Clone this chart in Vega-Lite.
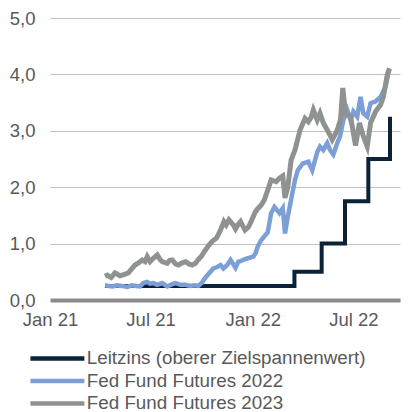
{
  "$schema": "https://vega.github.io/schema/vega-lite/v6.json",
  "width": 350,
  "height": 282,
  "autosize": {"type": "none"},
  "padding": {"left": 50, "top": 18, "right": 13, "bottom": 112},
  "config": {
    "view": {"stroke": null},
    "font": "Liberation Sans",
    "axis": {"labelFont": "Liberation Sans", "labelFontSize": 18.5, "labelColor": "#595959", "title": null, "ticks": false}
  },
  "data": {"values": [
    {"d":"2021-04-10","s":"Leitzins (oberer Zielspannenwert)","v":0.25},
    {"d":"2022-03-17","s":"Leitzins (oberer Zielspannenwert)","v":0.5},
    {"d":"2022-05-05","s":"Leitzins (oberer Zielspannenwert)","v":1.0},
    {"d":"2022-06-16","s":"Leitzins (oberer Zielspannenwert)","v":1.75},
    {"d":"2022-07-28","s":"Leitzins (oberer Zielspannenwert)","v":2.5},
    {"d":"2022-09-05","s":"Leitzins (oberer Zielspannenwert)","v":3.25},

    {"d":"2021-04-10","s":"Fed Fund Futures 2022","v":0.26},
    {"d":"2021-04-17","s":"Fed Fund Futures 2022","v":0.25},
    {"d":"2021-04-24","s":"Fed Fund Futures 2022","v":0.24},
    {"d":"2021-05-01","s":"Fed Fund Futures 2022","v":0.26},
    {"d":"2021-05-10","s":"Fed Fund Futures 2022","v":0.25},
    {"d":"2021-05-20","s":"Fed Fund Futures 2022","v":0.23},
    {"d":"2021-05-28","s":"Fed Fund Futures 2022","v":0.26},
    {"d":"2021-06-05","s":"Fed Fund Futures 2022","v":0.25},
    {"d":"2021-06-12","s":"Fed Fund Futures 2022","v":0.24},
    {"d":"2021-06-18","s":"Fed Fund Futures 2022","v":0.30},
    {"d":"2021-06-25","s":"Fed Fund Futures 2022","v":0.32},
    {"d":"2021-06-30","s":"Fed Fund Futures 2022","v":0.29},
    {"d":"2021-07-06","s":"Fed Fund Futures 2022","v":0.30},
    {"d":"2021-07-13","s":"Fed Fund Futures 2022","v":0.27},
    {"d":"2021-07-22","s":"Fed Fund Futures 2022","v":0.30},
    {"d":"2021-07-31","s":"Fed Fund Futures 2022","v":0.24},
    {"d":"2021-08-09","s":"Fed Fund Futures 2022","v":0.28},
    {"d":"2021-08-15","s":"Fed Fund Futures 2022","v":0.30},
    {"d":"2021-08-24","s":"Fed Fund Futures 2022","v":0.27},
    {"d":"2021-09-02","s":"Fed Fund Futures 2022","v":0.27},
    {"d":"2021-09-10","s":"Fed Fund Futures 2022","v":0.25},
    {"d":"2021-09-18","s":"Fed Fund Futures 2022","v":0.26},
    {"d":"2021-09-25","s":"Fed Fund Futures 2022","v":0.25},
    {"d":"2021-10-01","s":"Fed Fund Futures 2022","v":0.30},
    {"d":"2021-10-08","s":"Fed Fund Futures 2022","v":0.40},
    {"d":"2021-10-14","s":"Fed Fund Futures 2022","v":0.47},
    {"d":"2021-10-22","s":"Fed Fund Futures 2022","v":0.56},
    {"d":"2021-10-28","s":"Fed Fund Futures 2022","v":0.58},
    {"d":"2021-11-04","s":"Fed Fund Futures 2022","v":0.62},
    {"d":"2021-11-09","s":"Fed Fund Futures 2022","v":0.56},
    {"d":"2021-11-16","s":"Fed Fund Futures 2022","v":0.62},
    {"d":"2021-11-22","s":"Fed Fund Futures 2022","v":0.71},
    {"d":"2021-12-01","s":"Fed Fund Futures 2022","v":0.57},
    {"d":"2021-12-06","s":"Fed Fund Futures 2022","v":0.68},
    {"d":"2021-12-10","s":"Fed Fund Futures 2022","v":0.69},
    {"d":"2021-12-17","s":"Fed Fund Futures 2022","v":0.72},
    {"d":"2021-12-23","s":"Fed Fund Futures 2022","v":0.74},
    {"d":"2022-01-02","s":"Fed Fund Futures 2022","v":0.77},
    {"d":"2022-01-06","s":"Fed Fund Futures 2022","v":0.83},
    {"d":"2022-01-10","s":"Fed Fund Futures 2022","v":0.95},
    {"d":"2022-01-16","s":"Fed Fund Futures 2022","v":1.06},
    {"d":"2022-01-28","s":"Fed Fund Futures 2022","v":1.20},
    {"d":"2022-02-03","s":"Fed Fund Futures 2022","v":1.54},
    {"d":"2022-02-09","s":"Fed Fund Futures 2022","v":1.65},
    {"d":"2022-02-18","s":"Fed Fund Futures 2022","v":1.54},
    {"d":"2022-02-24","s":"Fed Fund Futures 2022","v":1.63},
    {"d":"2022-02-28","s":"Fed Fund Futures 2022","v":1.18},
    {"d":"2022-03-05","s":"Fed Fund Futures 2022","v":1.48},
    {"d":"2022-03-12","s":"Fed Fund Futures 2022","v":1.83},
    {"d":"2022-03-18","s":"Fed Fund Futures 2022","v":2.13},
    {"d":"2022-03-23","s":"Fed Fund Futures 2022","v":2.30},
    {"d":"2022-04-01","s":"Fed Fund Futures 2022","v":2.42},
    {"d":"2022-04-11","s":"Fed Fund Futures 2022","v":2.45},
    {"d":"2022-04-18","s":"Fed Fund Futures 2022","v":2.30},
    {"d":"2022-04-27","s":"Fed Fund Futures 2022","v":2.62},
    {"d":"2022-05-02","s":"Fed Fund Futures 2022","v":2.72},
    {"d":"2022-05-08","s":"Fed Fund Futures 2022","v":2.66},
    {"d":"2022-05-15","s":"Fed Fund Futures 2022","v":2.78},
    {"d":"2022-05-20","s":"Fed Fund Futures 2022","v":2.66},
    {"d":"2022-05-26","s":"Fed Fund Futures 2022","v":2.58},
    {"d":"2022-06-02","s":"Fed Fund Futures 2022","v":2.78},
    {"d":"2022-06-07","s":"Fed Fund Futures 2022","v":2.90},
    {"d":"2022-06-13","s":"Fed Fund Futures 2022","v":3.19},
    {"d":"2022-06-20","s":"Fed Fund Futures 2022","v":3.37},
    {"d":"2022-06-26","s":"Fed Fund Futures 2022","v":3.19},
    {"d":"2022-07-01","s":"Fed Fund Futures 2022","v":3.34},
    {"d":"2022-07-08","s":"Fed Fund Futures 2022","v":3.25},
    {"d":"2022-07-14","s":"Fed Fund Futures 2022","v":3.60},
    {"d":"2022-07-19","s":"Fed Fund Futures 2022","v":3.31},
    {"d":"2022-07-26","s":"Fed Fund Futures 2022","v":3.25},
    {"d":"2022-08-01","s":"Fed Fund Futures 2022","v":3.49},
    {"d":"2022-08-10","s":"Fed Fund Futures 2022","v":3.52},
    {"d":"2022-08-19","s":"Fed Fund Futures 2022","v":3.60},
    {"d":"2022-08-28","s":"Fed Fund Futures 2022","v":3.78},
    {"d":"2022-09-02","s":"Fed Fund Futures 2022","v":4.02},
    {"d":"2022-09-04","s":"Fed Fund Futures 2022","v":4.08},

    {"d":"2021-04-10","s":"Fed Fund Futures 2023","v":0.42},
    {"d":"2021-04-14","s":"Fed Fund Futures 2023","v":0.44},
    {"d":"2021-04-21","s":"Fed Fund Futures 2023","v":0.40},
    {"d":"2021-04-28","s":"Fed Fund Futures 2023","v":0.48},
    {"d":"2021-05-07","s":"Fed Fund Futures 2023","v":0.43},
    {"d":"2021-05-14","s":"Fed Fund Futures 2023","v":0.45},
    {"d":"2021-05-22","s":"Fed Fund Futures 2023","v":0.48},
    {"d":"2021-05-28","s":"Fed Fund Futures 2023","v":0.55},
    {"d":"2021-06-03","s":"Fed Fund Futures 2023","v":0.62},
    {"d":"2021-06-10","s":"Fed Fund Futures 2023","v":0.66},
    {"d":"2021-06-16","s":"Fed Fund Futures 2023","v":0.71},
    {"d":"2021-06-21","s":"Fed Fund Futures 2023","v":0.68},
    {"d":"2021-06-25","s":"Fed Fund Futures 2023","v":0.77},
    {"d":"2021-06-30","s":"Fed Fund Futures 2023","v":0.68},
    {"d":"2021-07-06","s":"Fed Fund Futures 2023","v":0.74},
    {"d":"2021-07-13","s":"Fed Fund Futures 2023","v":0.80},
    {"d":"2021-07-18","s":"Fed Fund Futures 2023","v":0.72},
    {"d":"2021-07-22","s":"Fed Fund Futures 2023","v":0.68},
    {"d":"2021-07-31","s":"Fed Fund Futures 2023","v":0.65},
    {"d":"2021-08-04","s":"Fed Fund Futures 2023","v":0.70},
    {"d":"2021-08-09","s":"Fed Fund Futures 2023","v":0.71},
    {"d":"2021-08-15","s":"Fed Fund Futures 2023","v":0.64},
    {"d":"2021-08-20","s":"Fed Fund Futures 2023","v":0.62},
    {"d":"2021-08-27","s":"Fed Fund Futures 2023","v":0.66},
    {"d":"2021-09-02","s":"Fed Fund Futures 2023","v":0.68},
    {"d":"2021-09-08","s":"Fed Fund Futures 2023","v":0.64},
    {"d":"2021-09-14","s":"Fed Fund Futures 2023","v":0.62},
    {"d":"2021-09-20","s":"Fed Fund Futures 2023","v":0.65},
    {"d":"2021-09-25","s":"Fed Fund Futures 2023","v":0.72},
    {"d":"2021-09-30","s":"Fed Fund Futures 2023","v":0.77},
    {"d":"2021-10-06","s":"Fed Fund Futures 2023","v":0.86},
    {"d":"2021-10-13","s":"Fed Fund Futures 2023","v":0.96},
    {"d":"2021-10-20","s":"Fed Fund Futures 2023","v":1.04},
    {"d":"2021-10-28","s":"Fed Fund Futures 2023","v":1.10},
    {"d":"2021-11-04","s":"Fed Fund Futures 2023","v":1.24},
    {"d":"2021-11-10","s":"Fed Fund Futures 2023","v":1.39},
    {"d":"2021-11-14","s":"Fed Fund Futures 2023","v":1.33},
    {"d":"2021-11-19","s":"Fed Fund Futures 2023","v":1.42},
    {"d":"2021-11-27","s":"Fed Fund Futures 2023","v":1.33},
    {"d":"2021-12-01","s":"Fed Fund Futures 2023","v":1.26},
    {"d":"2021-12-05","s":"Fed Fund Futures 2023","v":1.33},
    {"d":"2021-12-10","s":"Fed Fund Futures 2023","v":1.39},
    {"d":"2021-12-18","s":"Fed Fund Futures 2023","v":1.24},
    {"d":"2021-12-24","s":"Fed Fund Futures 2023","v":1.29},
    {"d":"2021-12-29","s":"Fed Fund Futures 2023","v":1.39},
    {"d":"2022-01-05","s":"Fed Fund Futures 2023","v":1.55},
    {"d":"2022-01-10","s":"Fed Fund Futures 2023","v":1.62},
    {"d":"2022-01-16","s":"Fed Fund Futures 2023","v":1.68},
    {"d":"2022-01-22","s":"Fed Fund Futures 2023","v":1.78},
    {"d":"2022-01-28","s":"Fed Fund Futures 2023","v":1.95},
    {"d":"2022-02-03","s":"Fed Fund Futures 2023","v":2.13},
    {"d":"2022-02-12","s":"Fed Fund Futures 2023","v":2.10},
    {"d":"2022-02-18","s":"Fed Fund Futures 2023","v":2.16},
    {"d":"2022-02-24","s":"Fed Fund Futures 2023","v":2.20},
    {"d":"2022-02-28","s":"Fed Fund Futures 2023","v":1.81},
    {"d":"2022-03-05","s":"Fed Fund Futures 2023","v":2.00},
    {"d":"2022-03-11","s":"Fed Fund Futures 2023","v":2.48},
    {"d":"2022-03-18","s":"Fed Fund Futures 2023","v":2.66},
    {"d":"2022-03-27","s":"Fed Fund Futures 2023","v":3.01},
    {"d":"2022-04-05","s":"Fed Fund Futures 2023","v":3.22},
    {"d":"2022-04-11","s":"Fed Fund Futures 2023","v":3.16},
    {"d":"2022-04-16","s":"Fed Fund Futures 2023","v":3.24},
    {"d":"2022-04-20","s":"Fed Fund Futures 2023","v":3.37},
    {"d":"2022-04-27","s":"Fed Fund Futures 2023","v":3.19},
    {"d":"2022-05-02","s":"Fed Fund Futures 2023","v":3.31},
    {"d":"2022-05-08","s":"Fed Fund Futures 2023","v":3.14},
    {"d":"2022-05-17","s":"Fed Fund Futures 2023","v":2.98},
    {"d":"2022-05-24","s":"Fed Fund Futures 2023","v":2.84},
    {"d":"2022-06-02","s":"Fed Fund Futures 2023","v":3.01},
    {"d":"2022-06-08","s":"Fed Fund Futures 2023","v":3.20},
    {"d":"2022-06-12","s":"Fed Fund Futures 2023","v":3.76},
    {"d":"2022-06-17","s":"Fed Fund Futures 2023","v":3.30},
    {"d":"2022-06-26","s":"Fed Fund Futures 2023","v":3.25},
    {"d":"2022-07-05","s":"Fed Fund Futures 2023","v":2.74},
    {"d":"2022-07-12","s":"Fed Fund Futures 2023","v":3.14},
    {"d":"2022-07-19","s":"Fed Fund Futures 2023","v":2.90},
    {"d":"2022-07-26","s":"Fed Fund Futures 2023","v":2.72},
    {"d":"2022-08-01","s":"Fed Fund Futures 2023","v":3.14},
    {"d":"2022-08-10","s":"Fed Fund Futures 2023","v":3.34},
    {"d":"2022-08-19","s":"Fed Fund Futures 2023","v":3.46},
    {"d":"2022-08-24","s":"Fed Fund Futures 2023","v":3.60},
    {"d":"2022-08-31","s":"Fed Fund Futures 2023","v":3.99},
    {"d":"2022-09-04","s":"Fed Fund Futures 2023","v":4.11}
  ]},
  "encoding": {
    "x": {
      "field": "d", "type": "temporal",
      "scale": {"domain": [{"year": 2021, "month": 1, "date": 1}, {"year": 2022, "month": 9, "date": 23}]},
      "axis": {
        "values": [{"year": 2021, "month": 1, "date": 1}, {"year": 2021, "month": 7, "date": 1}, {"year": 2022, "month": 1, "date": 1}, {"year": 2022, "month": 7, "date": 1}],
        "format": "%b %y", "grid": false, "domainColor": "#8c8c8c", "domainWidth": 4, "labelPadding": 10, "labelFlush": false
      }
    },
    "y": {
      "field": "v", "type": "quantitative",
      "scale": {"domain": [0, 5]},
      "axis": {
        "values": [0, 1, 2, 3, 4, 5], "domain": false, "gridColor": "#c0c0c0", "gridWidth": 1.2,
        "labelExpr": "replace(format(datum.value, '.1f'), '.', ',')", "labelPadding": 15
      }
    },
    "color": {
      "field": "s", "type": "nominal",
      "scale": {
        "domain": ["Leitzins (oberer Zielspannenwert)", "Fed Fund Futures 2022", "Fed Fund Futures 2023"],
        "range": ["#0c2238", "#7b9fd6", "#8e9392"]
      },
      "legend": {
        "title": null, "orient": "none", "legendX": -2, "legendY": 331, "direction": "vertical",
        "symbolType": "M-5,0H5", "symbolSize": 116.6, "symbolStrokeWidth": 4.5,
        "labelFontSize": 18.8, "labelFont": "Liberation Sans", "labelColor": "#595959", "labelOffset": 20, "labelLimit": 400, "rowPadding": 2.5
      }
    }
  },
  "layer": [
    {"transform": [{"filter": "datum.s == 'Leitzins (oberer Zielspannenwert)'"}], "mark": {"type": "line", "interpolate": "step-after", "strokeWidth": 4}},
    {"transform": [{"filter": "datum.s == 'Fed Fund Futures 2022'"}], "mark": {"type": "line", "strokeWidth": 4.5}},
    {"transform": [{"filter": "datum.s == 'Fed Fund Futures 2023'"}], "mark": {"type": "line", "strokeWidth": 5}}
  ]
}
